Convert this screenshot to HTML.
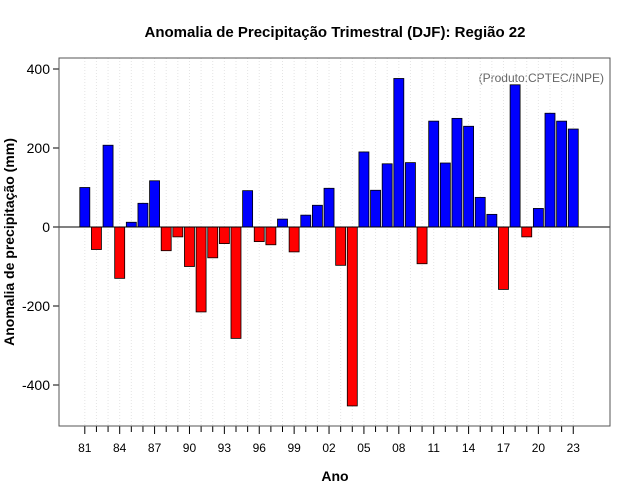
<!DOCTYPE html>
<html><head><meta charset="utf-8"><style>body{margin:0;background:#fff}svg{display:block;font-family:"Liberation Sans",sans-serif}</style></head>
<body>
<svg id="c" width="640" height="500">
<rect x="0" y="0" width="640" height="500" fill="#fff"/>
<text x="335" y="37" text-anchor="middle" font-size="15" font-weight="bold">Anomalia de Precipitação Trimestral (DJF): Região 22</text>
<text x="335" y="481" text-anchor="middle" font-size="14" font-weight="bold">Ano</text>
<text transform="translate(14,242) rotate(-90)" text-anchor="middle" font-size="14" font-weight="bold">Anomalia de precipitação (mm)</text>
<text x="604" y="82" text-anchor="end" font-size="12" fill="#666">(Produto:CPTEC/INPE)</text>
<g id="g"></g>
</svg>
<script>
const years=[1981,1982,1983,1984,1985,1986,1987,1988,1989,1990,1991,1992,1993,1994,1995,1996,1997,1998,1999,2000,2001,2002,2003,2004,2005,2006,2007,2008,2009,2010,2011,2012,2013,2014,2015,2016,2017,2018,2019,2020,2021,2022,2023];
const values=[100,-57,207,-130,12,60,117,-60,-25,-100,-215,-78,-42,-282,92,-37,-45,20,-63,30,55,98,-97,-453,190,93,160,376,163,-93,268,162,275,255,75,32,-158,360,-25,47,288,268,248];
const yTicks=[-400,-200,0,200,400];
const xLabelYears=[1981,1984,1987,1990,1993,1996,1999,2002,2005,2008,2011,2014,2017,2020,2023];
const NS='http://www.w3.org/2000/svg';
const g=document.getElementById('g');
const L=59,R=610,T=58,B=426;
const x=yr=>84.8+(yr-1981)*11.63;
const y=v=>227-v*0.395;
function mk(t,a){const e=document.createElementNS(NS,t);for(const k in a)e.setAttribute(k,a[k]);g.appendChild(e);return e;}
years.forEach(yr=>{
 const e=mk('line',{x1:x(yr),x2:x(yr),y1:T,y2:B,stroke:'#e4e4e4','stroke-dasharray':'1,2'});
 
 
 const big=xLabelYears.includes(yr);
 const t=mk('line',{x1:x(yr),x2:x(yr),y1:B,y2:B+(big?8:6),stroke:'#000'});
 
 
});
xLabelYears.forEach(yr=>{
 const t=mk('text',{x:x(yr),y:452,'text-anchor':'middle','font-size':12});
 t.textContent=String(yr%100).padStart(2,'0');
 
 
});
yTicks.forEach(v=>{
 const t=mk('line',{x1:L-6,x2:L,y1:y(v),y2:y(v),stroke:'#000'});
 
 
 const l=mk('text',{x:L-9,y:y(v)+5,'text-anchor':'end','font-size':14});
 l.textContent=v;
 
 
});
years.forEach((yr,i)=>{
 const v=values[i];
 const r=mk('rect',{x:x(yr)-5,width:10,y:Math.min(y(v),y(0)),height:Math.abs(y(v)-y(0)),fill:v>=0?'#0000ff':'#ff0000',stroke:'#000','stroke-width':0.8});
 
 
});
const z=mk('line',{x1:L,x2:R,y1:y(0),y2:y(0),stroke:'#000'});


const f=mk('rect',{x:L,y:T,width:R-L,height:B-T,fill:'none',stroke:'#555'});


</script>
</body></html>
